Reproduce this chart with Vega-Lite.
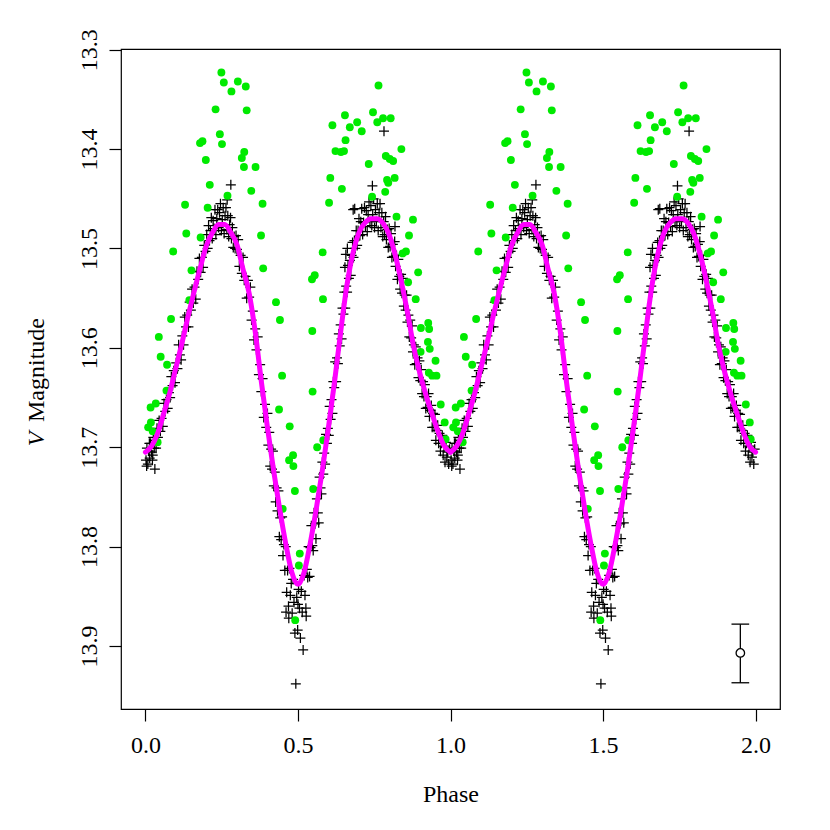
{
"$schema":"https://vega.github.io/schema/vega-lite/v6.json",
"width":659,"height":660,
"autosize":{"type":"none"},
"padding":{"left":121,"top":49,"right":51,"bottom":121},
"background":"white",
"title":{"text":"V","orient":"left","anchor":"middle","frame":"group","angle":-90,"font":"Liberation Serif","fontSize":24,"fontStyle":"italic","fontWeight":"normal","color":"black","baseline":"alphabetic","offset":-44,"dx":-60},
"config":{"view":{"stroke":"black","strokeWidth":1.2},"axis":{"domain":false,"grid":false,"tickColor":"black","tickSize":12,"tickWidth":1.2,"labelFont":"Liberation Serif","labelFontSize":24,"labelColor":"black","labelFlush":false,"labelOverlap":false,"titleFont":"Liberation Serif","titleFontSize":24,"titleFontWeight":"normal","titleColor":"black"}},
"datasets":{
"blk":[
{"p":0.002,"q":1.002,"m":13.713},{"p":0.004,"q":1.004,"m":13.719},{"p":0.005,"q":1.005,"m":13.701},{"p":0.008,"q":1.008,"m":13.717},{"p":0.011,"q":1.011,"m":13.704},{"p":0.013,"q":1.013,"m":13.696},{"p":0.014,"q":1.014,"m":13.711},{"p":0.017,"q":1.017,"m":13.696},{"p":0.020,"q":1.020,"m":13.705},{"p":0.023,"q":1.023,"m":13.713},{"p":0.024,"q":1.024,"m":13.708},{"p":0.026,"q":1.026,"m":13.690},{"p":0.029,"q":1.029,"m":13.701},{"p":0.031,"q":1.031,"m":13.722},{"p":0.032,"q":1.032,"m":13.693},{"p":0.035,"q":1.035,"m":13.701},{"p":0.038,"q":1.038,"m":13.681},{"p":0.041,"q":1.041,"m":13.690},{"p":0.045,"q":1.045,"m":13.673},{"p":0.049,"q":1.049,"m":13.684},{"p":0.053,"q":1.053,"m":13.671},{"p":0.057,"q":1.057,"m":13.679},{"p":0.061,"q":1.061,"m":13.656},{"p":0.065,"q":1.065,"m":13.664},{"p":0.069,"q":1.069,"m":13.652},{"p":0.073,"q":1.073,"m":13.661},{"p":0.077,"q":1.077,"m":13.645},{"p":0.081,"q":1.081,"m":13.650},{"p":0.085,"q":1.085,"m":13.629},{"p":0.089,"q":1.089,"m":13.638},{"p":0.093,"q":1.093,"m":13.623},{"p":0.097,"q":1.097,"m":13.635},
{"p":0.101,"q":1.101,"m":13.615},{"p":0.105,"q":1.105,"m":13.621},{"p":0.109,"q":1.109,"m":13.597},{"p":0.113,"q":1.113,"m":13.607},{"p":0.117,"q":1.117,"m":13.612},{"p":0.121,"q":1.121,"m":13.588},{"p":0.125,"q":1.125,"m":13.597},{"p":0.129,"q":1.129,"m":13.569},{"p":0.133,"q":1.133,"m":13.579},{"p":0.137,"q":1.137,"m":13.567},{"p":0.141,"q":1.141,"m":13.579},{"p":0.145,"q":1.145,"m":13.554},{"p":0.149,"q":1.149,"m":13.562},{"p":0.153,"q":1.153,"m":13.541},{"p":0.157,"q":1.157,"m":13.555},{"p":0.161,"q":1.161,"m":13.539},{"p":0.165,"q":1.165,"m":13.551},{"p":0.169,"q":1.169,"m":13.523},{"p":0.173,"q":1.173,"m":13.531},{"p":0.177,"q":1.177,"m":13.510},{"p":0.181,"q":1.181,"m":13.524},{"p":0.185,"q":1.185,"m":13.509},{"p":0.189,"q":1.189,"m":13.519},{"p":0.193,"q":1.193,"m":13.497},{"p":0.197,"q":1.197,"m":13.503},
{"p":0.201,"q":1.201,"m":13.486},{"p":0.204,"q":1.204,"m":13.500},{"p":0.207,"q":1.207,"m":13.477},{"p":0.210,"q":1.210,"m":13.492},{"p":0.213,"q":1.213,"m":13.482},{"p":0.216,"q":1.216,"m":13.469},{"p":0.219,"q":1.219,"m":13.490},{"p":0.222,"q":1.222,"m":13.472},{"p":0.225,"q":1.225,"m":13.480},{"p":0.228,"q":1.228,"m":13.461},{"p":0.231,"q":1.231,"m":13.486},{"p":0.234,"q":1.234,"m":13.470},{"p":0.237,"q":1.237,"m":13.461},{"p":0.240,"q":1.240,"m":13.479},{"p":0.243,"q":1.243,"m":13.464},{"p":0.246,"q":1.246,"m":13.455},{"p":0.249,"q":1.249,"m":13.482},{"p":0.252,"q":1.252,"m":13.471},{"p":0.255,"q":1.255,"m":13.459},{"p":0.258,"q":1.258,"m":13.485},{"p":0.261,"q":1.261,"m":13.467},{"p":0.264,"q":1.264,"m":13.459},{"p":0.267,"q":1.267,"m":13.481},{"p":0.268,"q":1.268,"m":13.451},{"p":0.270,"q":1.270,"m":13.467},{"p":0.273,"q":1.273,"m":13.488},{"p":0.276,"q":1.276,"m":13.476},{"p":0.279,"q":1.279,"m":13.469},{"p":0.280,"q":1.280,"m":13.436},{"p":0.282,"q":1.282,"m":13.490},{"p":0.285,"q":1.285,"m":13.479},{"p":0.288,"q":1.288,"m":13.499},{"p":0.291,"q":1.291,"m":13.488},{"p":0.294,"q":1.294,"m":13.500},{"p":0.297,"q":1.297,"m":13.487},
{"p":0.300,"q":1.300,"m":13.501},{"p":0.304,"q":1.304,"m":13.491},{"p":0.308,"q":1.308,"m":13.518},{"p":0.312,"q":1.312,"m":13.507},{"p":0.316,"q":1.316,"m":13.525},{"p":0.320,"q":1.320,"m":13.509},{"p":0.324,"q":1.324,"m":13.532},{"p":0.328,"q":1.328,"m":13.528},{"p":0.332,"q":1.332,"m":13.550},{"p":0.336,"q":1.336,"m":13.532},{"p":0.340,"q":1.340,"m":13.549},{"p":0.344,"q":1.344,"m":13.539},{"p":0.348,"q":1.348,"m":13.572},{"p":0.352,"q":1.352,"m":13.563},{"p":0.356,"q":1.356,"m":13.592},{"p":0.360,"q":1.360,"m":13.581},{"p":0.364,"q":1.364,"m":13.602},{"p":0.368,"q":1.368,"m":13.589},{"p":0.372,"q":1.372,"m":13.627},{"p":0.376,"q":1.376,"m":13.617},{"p":0.380,"q":1.380,"m":13.644},{"p":0.384,"q":1.384,"m":13.631},{"p":0.388,"q":1.388,"m":13.670},{"p":0.392,"q":1.392,"m":13.657},{"p":0.396,"q":1.396,"m":13.680},{"p":0.400,"q":1.400,"m":13.666},
{"p":0.403,"q":1.403,"m":13.698},{"p":0.406,"q":1.406,"m":13.685},{"p":0.409,"q":1.409,"m":13.719},{"p":0.412,"q":1.412,"m":13.702},{"p":0.415,"q":1.415,"m":13.722},{"p":0.418,"q":1.418,"m":13.704},{"p":0.421,"q":1.421,"m":13.739},{"p":0.424,"q":1.424,"m":13.725},{"p":0.427,"q":1.427,"m":13.755},{"p":0.430,"q":1.430,"m":13.741},{"p":0.433,"q":1.433,"m":13.764},{"p":0.436,"q":1.436,"m":13.744},{"p":0.439,"q":1.439,"m":13.790},{"p":0.442,"q":1.442,"m":13.771},{"p":0.445,"q":1.445,"m":13.793},{"p":0.448,"q":1.448,"m":13.770},{"p":0.451,"q":1.451,"m":13.809},{"p":0.454,"q":1.454,"m":13.798},{"p":0.457,"q":1.457,"m":13.824},{"p":0.460,"q":1.460,"m":13.800},{"p":0.461,"q":1.461,"m":13.866},{"p":0.463,"q":1.463,"m":13.846},{"p":0.466,"q":1.466,"m":13.824},{"p":0.469,"q":1.469,"m":13.860},{"p":0.470,"q":1.470,"m":13.872},{"p":0.472,"q":1.472,"m":13.822},{"p":0.475,"q":1.475,"m":13.849},{"p":0.478,"q":1.478,"m":13.837},{"p":0.481,"q":1.481,"m":13.867},{"p":0.484,"q":1.484,"m":13.833},{"p":0.487,"q":1.487,"m":13.856},{"p":0.490,"q":1.490,"m":13.887},{"p":0.493,"q":1.493,"m":13.938},{"p":0.496,"q":1.496,"m":13.851},{"p":0.499,"q":1.499,"m":13.884},{"p":0.500,"q":1.500,"m":13.858},
{"p":0.502,"q":1.502,"m":13.843},{"p":0.505,"q":1.505,"m":13.862},{"p":0.508,"q":1.508,"m":13.892},{"p":0.511,"q":1.511,"m":13.845},{"p":0.514,"q":1.514,"m":13.866},{"p":0.517,"q":1.517,"m":13.904},{"p":0.520,"q":1.520,"m":13.829},{"p":0.523,"q":1.523,"m":13.849},{"p":0.526,"q":1.526,"m":13.862},{"p":0.527,"q":1.527,"m":13.870},{"p":0.529,"q":1.529,"m":13.823},{"p":0.532,"q":1.532,"m":13.831},{"p":0.535,"q":1.535,"m":13.800},{"p":0.538,"q":1.538,"m":13.830},{"p":0.541,"q":1.541,"m":13.801},{"p":0.544,"q":1.544,"m":13.779},{"p":0.547,"q":1.547,"m":13.799},{"p":0.550,"q":1.550,"m":13.804},{"p":0.553,"q":1.553,"m":13.766},{"p":0.556,"q":1.556,"m":13.777},{"p":0.559,"q":1.559,"m":13.792},{"p":0.562,"q":1.562,"m":13.752},{"p":0.565,"q":1.565,"m":13.766},{"p":0.568,"q":1.568,"m":13.776},{"p":0.571,"q":1.571,"m":13.730},{"p":0.574,"q":1.574,"m":13.741},{"p":0.577,"q":1.577,"m":13.747},{"p":0.580,"q":1.580,"m":13.715},{"p":0.583,"q":1.583,"m":13.727},{"p":0.586,"q":1.586,"m":13.706},{"p":0.589,"q":1.589,"m":13.717},{"p":0.592,"q":1.592,"m":13.687},{"p":0.595,"q":1.595,"m":13.696},{"p":0.598,"q":1.598,"m":13.681},
{"p":0.601,"q":1.601,"m":13.688},{"p":0.604,"q":1.604,"m":13.659},{"p":0.607,"q":1.607,"m":13.672},{"p":0.610,"q":1.610,"m":13.652},{"p":0.613,"q":1.613,"m":13.666},{"p":0.616,"q":1.616,"m":13.634},{"p":0.619,"q":1.619,"m":13.640},{"p":0.622,"q":1.622,"m":13.614},{"p":0.625,"q":1.625,"m":13.634},{"p":0.628,"q":1.628,"m":13.610},{"p":0.631,"q":1.631,"m":13.616},{"p":0.634,"q":1.634,"m":13.586},{"p":0.637,"q":1.637,"m":13.598},{"p":0.640,"q":1.640,"m":13.577},{"p":0.643,"q":1.643,"m":13.591},{"p":0.646,"q":1.646,"m":13.560},{"p":0.649,"q":1.649,"m":13.566},{"p":0.652,"q":1.652,"m":13.544},{"p":0.654,"q":1.654,"m":13.519},{"p":0.655,"q":1.655,"m":13.560},{"p":0.657,"q":1.657,"m":13.506},{"p":0.658,"q":1.658,"m":13.538},{"p":0.661,"q":1.661,"m":13.544},{"p":0.662,"q":1.662,"m":13.500},{"p":0.664,"q":1.664,"m":13.517},{"p":0.667,"q":1.667,"m":13.530},{"p":0.670,"q":1.670,"m":13.512},{"p":0.673,"q":1.673,"m":13.527},{"p":0.676,"q":1.676,"m":13.507},{"p":0.679,"q":1.679,"m":13.494},{"p":0.681,"q":1.681,"m":13.461},{"p":0.682,"q":1.682,"m":13.509},{"p":0.685,"q":1.685,"m":13.492},{"p":0.686,"q":1.686,"m":13.460},{"p":0.688,"q":1.688,"m":13.500},{"p":0.691,"q":1.691,"m":13.482},{"p":0.694,"q":1.694,"m":13.497},{"p":0.697,"q":1.697,"m":13.482},
{"p":0.700,"q":1.700,"m":13.470},{"p":0.703,"q":1.703,"m":13.487},{"p":0.706,"q":1.706,"m":13.473},{"p":0.709,"q":1.709,"m":13.460},{"p":0.712,"q":1.712,"m":13.486},{"p":0.715,"q":1.715,"m":13.474},{"p":0.718,"q":1.718,"m":13.459},{"p":0.721,"q":1.721,"m":13.478},{"p":0.724,"q":1.724,"m":13.462},{"p":0.727,"q":1.727,"m":13.483},{"p":0.730,"q":1.730,"m":13.466},{"p":0.733,"q":1.733,"m":13.453},{"p":0.736,"q":1.736,"m":13.473},{"p":0.739,"q":1.739,"m":13.457},{"p":0.742,"q":1.742,"m":13.477},{"p":0.744,"q":1.744,"m":13.437},{"p":0.745,"q":1.745,"m":13.466},{"p":0.748,"q":1.748,"m":13.450},{"p":0.751,"q":1.751,"m":13.479},{"p":0.754,"q":1.754,"m":13.461},{"p":0.757,"q":1.757,"m":13.473},{"p":0.760,"q":1.760,"m":13.455},{"p":0.763,"q":1.763,"m":13.482},{"p":0.766,"q":1.766,"m":13.464},{"p":0.769,"q":1.769,"m":13.455},{"p":0.772,"q":1.772,"m":13.479},{"p":0.775,"q":1.775,"m":13.464},{"p":0.778,"q":1.778,"m":13.488},{"p":0.781,"q":1.781,"m":13.473},{"p":0.782,"q":1.782,"m":13.382},{"p":0.784,"q":1.784,"m":13.486},{"p":0.787,"q":1.787,"m":13.468},{"p":0.790,"q":1.790,"m":13.491},{"p":0.793,"q":1.793,"m":13.481},{"p":0.796,"q":1.796,"m":13.499},{"p":0.799,"q":1.799,"m":13.480},
{"p":0.802,"q":1.802,"m":13.498},{"p":0.805,"q":1.805,"m":13.485},{"p":0.808,"q":1.808,"m":13.509},{"p":0.811,"q":1.811,"m":13.496},{"p":0.814,"q":1.814,"m":13.508},{"p":0.817,"q":1.817,"m":13.493},{"p":0.818,"q":1.818,"m":13.478},{"p":0.820,"q":1.820,"m":13.518},{"p":0.823,"q":1.823,"m":13.507},{"p":0.826,"q":1.826,"m":13.531},{"p":0.829,"q":1.829,"m":13.511},{"p":0.832,"q":1.832,"m":13.528},{"p":0.835,"q":1.835,"m":13.541},{"p":0.838,"q":1.838,"m":13.526},{"p":0.841,"q":1.841,"m":13.545},{"p":0.844,"q":1.844,"m":13.530},{"p":0.847,"q":1.847,"m":13.558},{"p":0.850,"q":1.850,"m":13.547},{"p":0.853,"q":1.853,"m":13.562},{"p":0.856,"q":1.856,"m":13.547},{"p":0.859,"q":1.859,"m":13.574},{"p":0.862,"q":1.862,"m":13.567},{"p":0.865,"q":1.865,"m":13.589},{"p":0.868,"q":1.868,"m":13.572},{"p":0.871,"q":1.871,"m":13.590},{"p":0.874,"q":1.874,"m":13.578},{"p":0.877,"q":1.877,"m":13.604},{"p":0.880,"q":1.880,"m":13.597},{"p":0.883,"q":1.883,"m":13.617},{"p":0.886,"q":1.886,"m":13.599},{"p":0.889,"q":1.889,"m":13.616},{"p":0.892,"q":1.892,"m":13.610},{"p":0.895,"q":1.895,"m":13.630},{"p":0.898,"q":1.898,"m":13.613},
{"p":0.901,"q":1.901,"m":13.633},{"p":0.904,"q":1.904,"m":13.622},{"p":0.907,"q":1.907,"m":13.646},{"p":0.910,"q":1.910,"m":13.634},{"p":0.913,"q":1.913,"m":13.649},{"p":0.916,"q":1.916,"m":13.637},{"p":0.919,"q":1.919,"m":13.661},{"p":0.922,"q":1.922,"m":13.649},{"p":0.925,"q":1.925,"m":13.660},{"p":0.928,"q":1.928,"m":13.646},{"p":0.931,"q":1.931,"m":13.669},{"p":0.934,"q":1.934,"m":13.663},{"p":0.937,"q":1.937,"m":13.658},{"p":0.940,"q":1.940,"m":13.680},{"p":0.943,"q":1.943,"m":13.666},{"p":0.946,"q":1.946,"m":13.680},{"p":0.949,"q":1.949,"m":13.667},{"p":0.952,"q":1.952,"m":13.693},{"p":0.955,"q":1.955,"m":13.683},{"p":0.958,"q":1.958,"m":13.678},{"p":0.961,"q":1.961,"m":13.696},{"p":0.964,"q":1.964,"m":13.686},{"p":0.967,"q":1.967,"m":13.704},{"p":0.970,"q":1.970,"m":13.696},{"p":0.973,"q":1.973,"m":13.688},{"p":0.976,"q":1.976,"m":13.708},{"p":0.979,"q":1.979,"m":13.699},{"p":0.982,"q":1.982,"m":13.715},{"p":0.985,"q":1.985,"m":13.695},{"p":0.988,"q":1.988,"m":13.710},{"p":0.991,"q":1.991,"m":13.705},{"p":0.994,"q":1.994,"m":13.717},{"p":0.997,"q":1.997,"m":13.702}
],
"grn":[
{"p":0.009,"q":1.009,"m":13.680},{"p":0.017,"q":1.017,"m":13.660},{"p":0.018,"q":1.018,"m":13.675},{"p":0.024,"q":1.024,"m":13.684},{"p":0.034,"q":1.034,"m":13.656},{"p":0.040,"q":1.040,"m":13.695},{"p":0.044,"q":1.044,"m":13.589},{"p":0.050,"q":1.050,"m":13.609},{"p":0.069,"q":1.069,"m":13.643},{"p":0.071,"q":1.071,"m":13.617},{"p":0.084,"q":1.084,"m":13.571},{"p":0.091,"q":1.091,"m":13.503},{"p":0.130,"q":1.130,"m":13.456},{"p":0.134,"q":1.134,"m":13.485},{"p":0.144,"q":1.144,"m":13.552},{"p":0.151,"q":1.151,"m":13.522},
{"p":0.179,"q":1.179,"m":13.394},{"p":0.181,"q":1.181,"m":13.489},{"p":0.187,"q":1.187,"m":13.392},{"p":0.198,"q":1.198,"m":13.411},{"p":0.204,"q":1.204,"m":13.459},{"p":0.211,"q":1.211,"m":13.436},{"p":0.230,"q":1.230,"m":13.360},{"p":0.244,"q":1.244,"m":13.385},{"p":0.249,"q":1.249,"m":13.323},{"p":0.251,"q":1.251,"m":13.395},{"p":0.257,"q":1.257,"m":13.333},{"p":0.269,"q":1.269,"m":13.447},{"p":0.282,"q":1.282,"m":13.342},{"p":0.303,"q":1.303,"m":13.332},{"p":0.316,"q":1.316,"m":13.409},{"p":0.323,"q":1.323,"m":13.418},{"p":0.324,"q":1.324,"m":13.403},{"p":0.329,"q":1.329,"m":13.337},{"p":0.332,"q":1.332,"m":13.361},{"p":0.347,"q":1.347,"m":13.442},{"p":0.361,"q":1.361,"m":13.418},{"p":0.379,"q":1.379,"m":13.487},{"p":0.384,"q":1.384,"m":13.455},{"p":0.386,"q":1.386,"m":13.520},
{"p":0.428,"q":1.428,"m":13.554},{"p":0.441,"q":1.441,"m":13.572},{"p":0.448,"q":1.448,"m":13.628},{"p":0.438,"q":1.438,"m":13.662},{"p":0.473,"q":1.473,"m":13.679},{"p":0.471,"q":1.471,"m":13.713},{"p":0.484,"q":1.484,"m":13.708},{"p":0.485,"q":1.485,"m":13.719},{"p":0.490,"q":1.490,"m":13.744},{"p":0.450,"q":1.450,"m":13.762},{"p":0.506,"q":1.506,"m":13.807},{"p":0.503,"q":1.503,"m":13.819},{"p":0.491,"q":1.491,"m":13.874},
{"p":0.550,"q":1.550,"m":13.742},{"p":0.563,"q":1.563,"m":13.700},{"p":0.583,"q":1.583,"m":13.693},{"p":0.548,"q":1.548,"m":13.644},{"p":0.547,"q":1.547,"m":13.583},{"p":0.546,"q":1.546,"m":13.531},{"p":0.555,"q":1.555,"m":13.527},{"p":0.581,"q":1.581,"m":13.504},{"p":0.582,"q":1.582,"m":13.551},{"p":0.602,"q":1.602,"m":13.454},{"p":0.606,"q":1.606,"m":13.429},{"p":0.613,"q":1.613,"m":13.376},{"p":0.623,"q":1.623,"m":13.402},{"p":0.641,"q":1.641,"m":13.403},{"p":0.651,"q":1.651,"m":13.402},{"p":0.644,"q":1.644,"m":13.440},{"p":0.654,"q":1.654,"m":13.366},{"p":0.656,"q":1.656,"m":13.391},{"p":0.670,"q":1.670,"m":13.378},{"p":0.694,"q":1.694,"m":13.373},{"p":0.709,"q":1.709,"m":13.382},{"p":0.732,"q":1.732,"m":13.415},{"p":0.743,"q":1.743,"m":13.448},{"p":0.746,"q":1.746,"m":13.363},{"p":0.760,"q":1.760,"m":13.373},{"p":0.764,"q":1.764,"m":13.336},{"p":0.779,"q":1.779,"m":13.369},{"p":0.786,"q":1.786,"m":13.443},{"p":0.788,"q":1.788,"m":13.407},{"p":0.792,"q":1.792,"m":13.431},{"p":0.796,"q":1.796,"m":13.434},{"p":0.801,"q":1.801,"m":13.410},{"p":0.804,"q":1.804,"m":13.369},{"p":0.812,"q":1.812,"m":13.412},{"p":0.817,"q":1.817,"m":13.429},{"p":0.823,"q":1.823,"m":13.468},{"p":0.839,"q":1.839,"m":13.400},
{"p":0.843,"q":1.843,"m":13.505},{"p":0.854,"q":1.854,"m":13.503},{"p":0.864,"q":1.864,"m":13.487},{"p":0.877,"q":1.877,"m":13.471},{"p":0.894,"q":1.894,"m":13.524},{"p":0.861,"q":1.861,"m":13.534},{"p":0.886,"q":1.886,"m":13.551},{"p":0.927,"q":1.927,"m":13.575},{"p":0.903,"q":1.903,"m":13.580},{"p":0.930,"q":1.930,"m":13.581},{"p":0.926,"q":1.926,"m":13.594},{"p":0.932,"q":1.932,"m":13.601},{"p":0.902,"q":1.902,"m":13.604},{"p":0.951,"q":1.951,"m":13.613},{"p":0.929,"q":1.929,"m":13.625},{"p":0.940,"q":1.940,"m":13.628},{"p":0.954,"q":1.954,"m":13.628},{"p":0.968,"q":1.968,"m":13.657},{"p":0.981,"q":1.981,"m":13.675},{"p":0.984,"q":1.984,"m":13.692}
],
"mod":[
{"p":0.00,"q":1.00,"m":13.705},{"p":0.02,"q":1.02,"m":13.699},{"p":0.04,"q":1.04,"m":13.686},{"p":0.06,"q":1.06,"m":13.666},{"p":0.08,"q":1.08,"m":13.645},{"p":0.10,"q":1.10,"m":13.620},{"p":0.12,"q":1.12,"m":13.595},{"p":0.14,"q":1.14,"m":13.568},{"p":0.16,"q":1.16,"m":13.543},{"p":0.18,"q":1.18,"m":13.519},{"p":0.20,"q":1.20,"m":13.497},{"p":0.22,"q":1.22,"m":13.484},{"p":0.24,"q":1.24,"m":13.476},{"p":0.26,"q":1.26,"m":13.476},{"p":0.28,"q":1.28,"m":13.484},{"p":0.30,"q":1.30,"m":13.496},{"p":0.32,"q":1.32,"m":13.521},{"p":0.34,"q":1.34,"m":13.545},{"p":0.36,"q":1.36,"m":13.584},{"p":0.38,"q":1.38,"m":13.634},{"p":0.40,"q":1.40,"m":13.680},{"p":0.42,"q":1.42,"m":13.723},{"p":0.44,"q":1.44,"m":13.762},{"p":0.46,"q":1.46,"m":13.797},{"p":0.48,"q":1.48,"m":13.826},{"p":0.50,"q":1.50,"m":13.838},{"p":0.52,"q":1.52,"m":13.826},{"p":0.54,"q":1.54,"m":13.797},{"p":0.56,"q":1.56,"m":13.762},{"p":0.58,"q":1.58,"m":13.723},{"p":0.60,"q":1.60,"m":13.680},{"p":0.62,"q":1.62,"m":13.634},{"p":0.64,"q":1.64,"m":13.584},{"p":0.66,"q":1.66,"m":13.538},{"p":0.68,"q":1.68,"m":13.505},{"p":0.70,"q":1.70,"m":13.484},{"p":0.72,"q":1.72,"m":13.474},{"p":0.74,"q":1.74,"m":13.470},{"p":0.76,"q":1.76,"m":13.470},{"p":0.78,"q":1.78,"m":13.475},{"p":0.80,"q":1.80,"m":13.487},{"p":0.82,"q":1.82,"m":13.508},{"p":0.84,"q":1.84,"m":13.535},{"p":0.86,"q":1.86,"m":13.566},{"p":0.88,"q":1.88,"m":13.600},{"p":0.90,"q":1.90,"m":13.626},{"p":0.92,"q":1.92,"m":13.648},{"p":0.94,"q":1.94,"m":13.667},{"p":0.96,"q":1.96,"m":13.685},{"p":0.98,"q":1.98,"m":13.699},{"p":1.00,"q":2.00,"m":13.705}
],
"err":[{"p":1.950,"a":1.921,"b":1.979,"m":13.907,"lo":13.878,"hi":13.937}]
},
"layer":[
{"data":{"name":"blk"},"mark":{"type":"point","shape":"M-1,0H1M0,-1V1","filled":false,"stroke":"black","strokeWidth":1.25,"size":100,"opacity":1},
 "encoding":{
  "x":{"field":"p","type":"quantitative","scale":{"domain":[-0.08,2.08],"nice":false,"zero":false},"axis":{"title":"Phase","values":[0,0.5,1,1.5,2],"format":".1f","labelBaseline":"alphabetic","labelPadding":31,"titleX":329.5,"titleY":92,"titleAlign":"center","titleBaseline":"alphabetic"}},
  "y":{"field":"m","type":"quantitative","scale":{"domain":[13.2993,13.9634],"reverse":true,"nice":false,"zero":false},"axis":{"title":"Magnitude","values":[13.3,13.4,13.5,13.6,13.7,13.8,13.9],"format":".1f","labelAngle":-90,"labelAlign":"center","labelBaseline":"alphabetic","labelPadding":13,"titleAngle":-90,"titleX":-78,"titleY":320.5,"titleAlign":"center","titleBaseline":"alphabetic"}}}},
{"data":{"name":"blk"},"mark":{"type":"point","shape":"M-1,0H1M0,-1V1","filled":false,"stroke":"black","strokeWidth":1.25,"size":100,"opacity":1},
 "encoding":{"x":{"field":"q","type":"quantitative"},"y":{"field":"m","type":"quantitative"}}},
{"data":{"name":"grn"},"mark":{"type":"circle","color":"#00ea00","size":62,"opacity":1},
 "encoding":{"x":{"field":"p","type":"quantitative"},"y":{"field":"m","type":"quantitative"}}},
{"data":{"name":"grn"},"mark":{"type":"circle","color":"#00ea00","size":62,"opacity":1},
 "encoding":{"x":{"field":"q","type":"quantitative"},"y":{"field":"m","type":"quantitative"}}},
{"data":{"name":"mod"},"mark":{"type":"line","color":"#ff00ff","strokeWidth":5,"interpolate":"monotone","strokeCap":"round"},
 "encoding":{"x":{"field":"p","type":"quantitative"},"y":{"field":"m","type":"quantitative"}}},
{"data":{"name":"mod"},"mark":{"type":"line","color":"#ff00ff","strokeWidth":5,"interpolate":"monotone","strokeCap":"round"},
 "encoding":{"x":{"field":"q","type":"quantitative"},"y":{"field":"m","type":"quantitative"}}},
{"data":{"name":"err"},"mark":{"type":"rule","color":"black","strokeWidth":1.3},
 "encoding":{"x":{"field":"p","type":"quantitative"},"y":{"field":"lo","type":"quantitative"},"y2":{"field":"hi"}}},
{"data":{"name":"err"},"mark":{"type":"rule","color":"black","strokeWidth":1.3},
 "encoding":{"x":{"field":"a","type":"quantitative"},"x2":{"field":"b"},"y":{"field":"lo","type":"quantitative"}}},
{"data":{"name":"err"},"mark":{"type":"rule","color":"black","strokeWidth":1.3},
 "encoding":{"x":{"field":"a","type":"quantitative"},"x2":{"field":"b"},"y":{"field":"hi","type":"quantitative"}}},
{"data":{"name":"err"},"mark":{"type":"point","shape":"circle","filled":true,"fill":"white","stroke":"black","strokeWidth":1.3,"size":72,"opacity":1},
 "encoding":{"x":{"field":"p","type":"quantitative"},"y":{"field":"m","type":"quantitative"}}}
]
}
